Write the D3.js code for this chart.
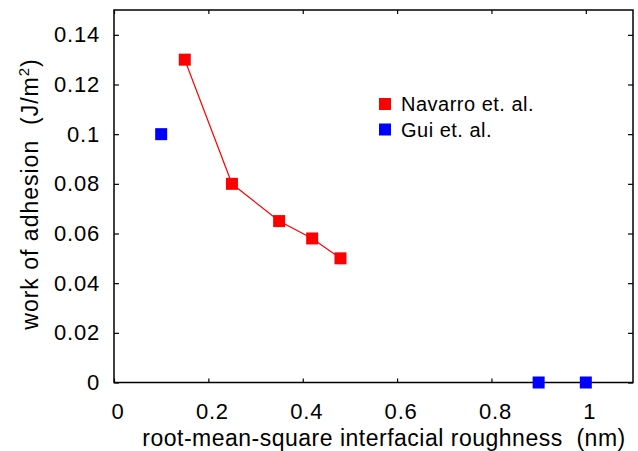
<!DOCTYPE html>
<html><head><meta charset="utf-8">
<script src="https://cdn.jsdelivr.net/npm/d3@7"></script>
<style>body{margin:0;background:#fff}svg{display:block;font-family:"Liberation Sans",Arial,sans-serif}</style>
</head><body>
<svg id="c" width="638" height="451"></svg>
<script>
const navarroX = [0.15, 0.25, 0.35, 0.42, 0.48];
const navarroY = [0.13, 0.08, 0.065, 0.058, 0.05];
const guiX = [0.1, 0.9, 1.0];
const guiY = [0.1, 0, 0];
const xTicks = [0, 0.2, 0.4, 0.6, 0.8, 1];
const yTicks = [0, 0.02, 0.04, 0.06, 0.08, 0.1, 0.12, 0.14];
const seriesNames = ["Navarro et. al.", "Gui et. al."];
const seriesColors = ["#ff0000", "#0000ff"];

const svg = d3.select("#c");
const L = 114, R = 633, T = 10, B = 382.5;
const x = d3.scaleLinear().domain([0, 1.1]).range([L, R]);
const y = d3.scaleLinear().domain([0, 0.15]).range([B, T]);
const fmt = d => d === 0 ? "0" : String(+d.toFixed(2));

const gx = svg.append("g").attr("transform", `translate(0,${B})`)
  .call(d3.axisBottom(x).tickValues(xTicks).tickSize(-4).tickPadding(21).tickFormat(fmt));
const gxt = svg.append("g").attr("transform", `translate(0,${T})`)
  .call(d3.axisTop(x).tickValues(xTicks).tickSize(-4).tickFormat(""));
const gy = svg.append("g").attr("transform", `translate(${L},0)`)
  .call(d3.axisLeft(y).tickValues(yTicks).tickSize(-5).tickPadding(14).tickFormat(fmt));
const gyr = svg.append("g").attr("transform", `translate(${R},0)`)
  .call(d3.axisRight(y).tickValues(yTicks).tickSize(-5).tickFormat(""));
[gx, gxt, gy, gyr].forEach(g => {
  g.select(".domain").remove();
  g.selectAll("line").attr("stroke", "#000").attr("stroke-width", 1.2);
  g.selectAll("text").attr("font-size", 22).attr("letter-spacing", 0.8).attr("fill", "#000")
    .attr("font-family", "Liberation Sans, Arial, sans-serif");
});
gx.selectAll("text").attr("dy", "0.71em").attr("dx", 3.5);

svg.append("rect").attr("x", L).attr("y", T).attr("width", R - L).attr("height", B - T)
  .attr("fill", "none").attr("stroke", "#000").attr("stroke-width", 1.5);

const nav = navarroX.map((v, i) => [v, navarroY[i]]);
const gui = guiX.map((v, i) => [v, guiY[i]]);
svg.append("path").datum(nav)
  .attr("d", d3.line().x(d => x(d[0])).y(d => y(d[1])))
  .attr("fill", "none").attr("stroke", seriesColors[0]).attr("stroke-width", 1.2);
const s = 12;
svg.selectAll(".nav").data(nav).enter().append("rect")
  .attr("x", d => x(d[0]) - s / 2).attr("y", d => y(d[1]) - s / 2)
  .attr("width", s).attr("height", s).attr("fill", seriesColors[0]);
svg.selectAll(".gui").data(gui).enter().append("rect")
  .attr("x", d => x(d[0]) - s / 2).attr("y", d => y(d[1]) - s / 2)
  .attr("width", s).attr("height", s).attr("fill", seriesColors[1]);

// legend
seriesNames.forEach((n, i) => {
  const cy = 104 + i * 25.5;
  svg.append("rect").attr("x", 379).attr("y", cy - 6).attr("width", 12).attr("height", 12).attr("fill", seriesColors[i]);
  svg.append("text").attr("x", 401).attr("y", cy + 7).attr("font-size", 20).attr("letter-spacing", 0.5).text(n);
});

// axis labels
svg.append("text").attr("x", 384).attr("y", 446).attr("text-anchor", "middle").attr("font-size", 23)
  .attr("letter-spacing", 0.5).attr("xml:space", "preserve").text("root-mean-square interfacial roughness  (nm)");
const yl = svg.append("text").attr("transform", "translate(38,194) rotate(-90)")
  .attr("text-anchor", "middle").attr("font-size", 23).attr("letter-spacing", 1).attr("xml:space", "preserve");
yl.append("tspan").text("work of adhesion  (J/m");
yl.append("tspan").attr("font-size", 15).attr("dy", -9).text("2");
yl.append("tspan").attr("dy", 9).text(")");
</script>
</body></html>
